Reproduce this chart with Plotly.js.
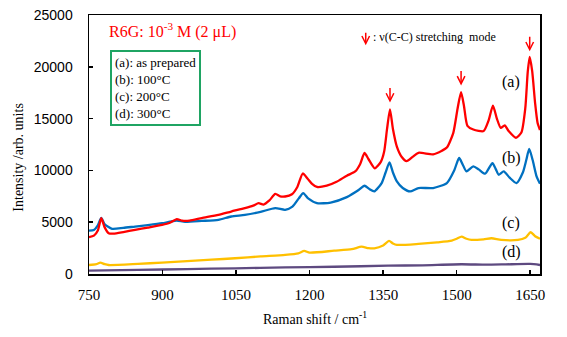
<!DOCTYPE html>
<html>
<head>
<meta charset="utf-8">
<script src="https://cdn.plot.ly/plotly-3.0.1.min.js"></script>
<style>html,body{margin:0;padding:0;background:#fff;}#chart{width:567px;height:337px;}</style>
</head>
<body>
<div id="chart"></div>
<script>
// Raman shift (cm^-1) and intensity (arb. units)
const xA = [750,760,768,775,782,790,800,820,844,870,899,915,929,940,955,980,1014,1040,1068,1085,1096,1106,1118,1130,1140,1150,1164,1175,1186,1196,1205,1215,1235,1255,1276,1293,1303,1312,1320,1333,1345,1352,1358,1364,1370,1378,1388,1398,1410,1422,1452,1470,1480,1493,1502,1509,1515,1522,1534,1555,1565,1574,1582,1590,1598,1606,1621,1632,1640,1645,1649,1654,1660,1665,1670];
const yA = [3550,3700,4200,5390,4500,3940,3900,4050,4260,4480,4740,4950,5300,5150,5150,5400,5710,6030,6360,6600,6840,6700,7100,7740,7500,7480,7700,8400,9700,9200,8700,8400,8520,8900,9490,9900,10600,11680,11100,10200,10800,11800,14000,15900,14000,12300,11300,10900,11300,11700,11550,11900,12200,13600,16000,17550,16200,14300,13950,13800,14800,16250,15000,14100,14350,13800,13150,13650,16000,19500,20950,19600,16500,14600,13900];

const xB = [750,760,768,775,782,797,820,844,870,899,915,929,946,980,1014,1040,1068,1100,1130,1150,1165,1178,1187,1197,1215,1243,1276,1300,1312,1322,1332,1347,1355,1363,1370,1378,1390,1405,1422,1452,1480,1495,1505,1512,1520,1534,1545,1558,1573,1580,1586,1596,1608,1622,1635,1642,1648,1655,1663,1670];
const yB = [4190,4250,4700,5420,4800,4360,4450,4580,4720,4900,5050,5160,5030,5120,5230,5550,5710,6000,6360,6200,6500,7300,7810,7300,6840,6900,7420,8100,8520,8200,7970,8780,9800,10770,9800,8940,8300,7970,8300,8300,8780,10000,11200,10600,9900,10390,10100,9680,10710,10100,9580,9900,9300,8780,9800,11000,12070,11000,9420,8710];

const xC = [750,765,773,782,790,850,899,950,1000,1048,1100,1150,1177,1189,1200,1250,1286,1306,1320,1332,1350,1362,1370,1378,1422,1460,1490,1500,1510,1520,1530,1555,1571,1591,1625,1640,1651,1660,1670];
const yC = [870,950,1100,950,870,980,1100,1250,1380,1520,1700,1850,2000,2230,2060,2250,2390,2640,2500,2480,2750,3190,2950,2810,2900,3050,3220,3400,3610,3400,3290,3350,3450,3290,3290,3500,4030,3650,3400];

const xD = [750,850,950,1048,1150,1250,1360,1430,1510,1560,1600,1650,1670];
const yD = [320,400,470,550,630,700,800,840,940,900,930,970,870];

const seriesLabels = ["(a)", "(b)", "(c)", "(d)"];
const legendLines = ["(a): as prepared", "(b): 100°C", "(c): 200°C", "(d): 300°C"];
const xTicks = [750, 900, 1050, 1200, 1350, 1500, 1650];
const yTicks = [0, 5000, 10000, 15000, 20000, 25000];
const arrowPeaksX = [1364, 1509, 1649];
const arrowTipsY = [16550, 18200, 21490];

const serif = "Liberation Serif, Times New Roman, serif";
const line = (x, y, c) => ({x: x, y: y, type: "scatter", mode: "lines",
  line: {color: c, width: 2.3, shape: "spline", smoothing: 0.6}, hoverinfo: "skip"});

const traces = [
  line(xD, yD, "#5e4a80"),
  line(xC, yC, "#ffc000"),
  line(xB, yB, "#0070c0"),
  line(xA, yA, "#ff0000")
];

const ann = [];
// peak arrows
arrowPeaksX.forEach((px, i) => ann.push({x: px, y: arrowTipsY[i], xref: "x", yref: "y",
  showarrow: true, ax: 0, ay: -16, arrowhead: 5, arrowsize: 1, arrowwidth: 1.5, arrowcolor: "#ff0000", text: ""}));
// legend arrow
ann.push({x: 1314.5, y: 22070, xref: "x", yref: "y", showarrow: true, ax: 0, ay: -14,
  arrowhead: 5, arrowsize: 1, arrowwidth: 1.5, arrowcolor: "#ff0000", text: ""});
ann.push({x: 0.625, y: 0.915, xref: "paper", yref: "paper", xanchor: "left", yanchor: "middle",
  showarrow: false, text: ": ν(C-C) stretching  mode", font: {family: serif, size: 12, color: "#000"}});
// title-like label
ann.push({x: 0.041, y: 0.94, xref: "paper", yref: "paper", xanchor: "left", yanchor: "middle",
  showarrow: false, text: "R6G: 10<sup>-3</sup> M (2 μL)", font: {family: serif, size: 16, color: "#ff0000"}});
// boxed legend
ann.push({x: 0.047, y: 0.8665, xref: "paper", yref: "paper", xanchor: "left", yanchor: "top",
  showarrow: false, align: "left", text: legendLines.join("<br>"),
  font: {family: serif, size: 13, color: "#000"}, bordercolor: "#1fa463", borderwidth: 2, borderpad: 3});
// series labels
const labY = [82, 158, 223, 252];
seriesLabels.forEach((t, i) => ann.push({x: (511 - 88.7) / 451.3, y: (274 - labY[i]) / 258.5,
  xref: "paper", yref: "paper", xanchor: "center", yanchor: "middle", showarrow: false,
  text: t, font: {family: serif, size: 16, color: "#000"}}));
// axis titles
ann.push({x: -0.157, y: 0.45, xref: "paper", yref: "paper", xanchor: "center", yanchor: "middle",
  textangle: -90, showarrow: false, text: "Intensity /arb. units", font: {family: serif, size: 14, color: "#000"}});
ann.push({x: 0.501, y: -0.17, xref: "paper", yref: "paper", xanchor: "center", yanchor: "middle",
  showarrow: false, text: "Raman shift / cm<sup>-1</sup>", font: {family: serif, size: 14, color: "#000"}});

const layout = {
  width: 567, height: 337,
  margin: {l: 89, r: 27, t: 15, b: 63},
  paper_bgcolor: "#fff", plot_bgcolor: "#fff",
  showlegend: false,
  xaxis: {range: [750, 1670], tickvals: xTicks, ticktext: xTicks.map(String),
    ticks: "inside", ticklen: 4, tickwidth: 1.5, tickcolor: "#000",
    showline: true, mirror: true, linecolor: "#000", linewidth: 1.5, showgrid: false, zeroline: false,
    tickfont: {family: serif, size: 15, color: "#000"}, ticklabelstandoff: 6},
  yaxis: {range: [0, 25000], tickvals: yTicks, ticktext: yTicks.map(String),
    ticks: "inside", ticklen: 4, tickwidth: 1.5, tickcolor: "#000",
    showline: true, mirror: true, linecolor: "#000", linewidth: 1.5, showgrid: false, zeroline: false,
    tickfont: {family: "Liberation Sans, Arial, sans-serif", size: 14, color: "#000"}, ticklabelstandoff: 12},
  annotations: ann
};

Plotly.newPlot("chart", traces, layout, {staticPlot: true, displayModeBar: false});
</script>
</body>
</html>
